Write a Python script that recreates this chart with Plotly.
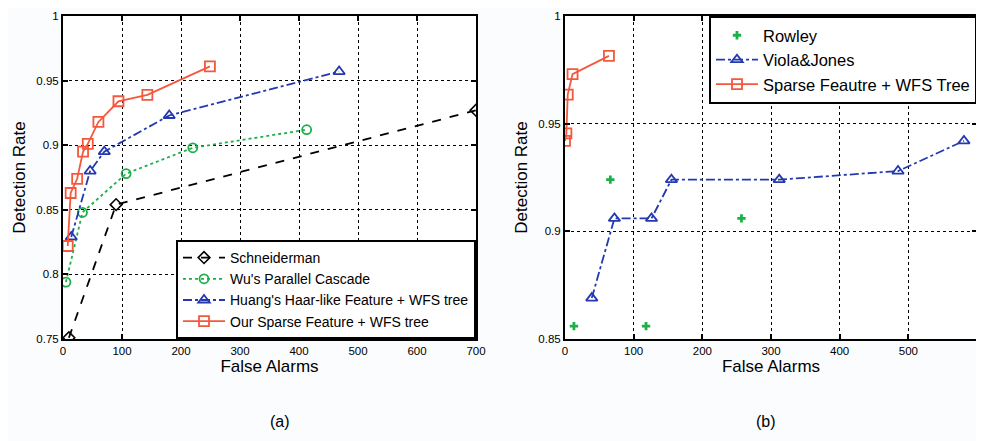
import plotly.graph_objects as go

# ---- data: panel (a) ----
schneider_x = [10, 90, 700]
schneider_y = [0.751, 0.854, 0.927]
wu_x = [5, 33, 107, 220, 413]
wu_y = [0.794, 0.848, 0.878, 0.898, 0.912]
huang_x = [14, 46, 70, 180, 468]
huang_y = [0.829, 0.880, 0.895, 0.923, 0.957]
ours_x = [8, 13, 24, 34, 42, 60, 94, 143, 249]
ours_y = [0.822, 0.863, 0.874, 0.895, 0.901, 0.918, 0.934, 0.939, 0.961]

# ---- data: panel (b) ----
rowley_x = [13, 66, 118, 257]
rowley_y = [0.856, 0.924, 0.856, 0.906]
vj_x = [39, 72, 126, 155, 312, 485, 581]
vj_y = [0.869, 0.906, 0.906, 0.924, 0.924, 0.928, 0.942]
sparse_x = [0, 2, 4, 11, 64]
sparse_y = [0.942, 0.9455, 0.9635, 0.973, 0.9815]

names_a = ["Schneiderman", "Wu's Parallel Cascade",
           "Huang's Haar-like Feature + WFS tree", "Our Sparse Feature + WFS tree"]
names_b = ["Rowley", "Viola&Jones", "Sparse Feautre + WFS Tree"]

BLACK = "#000000"
GREEN = "#1db04a"
BLUE = "#2438b0"
RED = "#f4583c"
FONT = "Liberation Sans, Arial, sans-serif"

OFF = 8  # default page body margin
W, H = 984 - OFF, 441 - OFF
def px_x(p): return (p - OFF) / W
def px_y(p): return 1 - (p - OFF) / H

fig = go.Figure()

fig.add_trace(go.Scatter(x=schneider_x, y=schneider_y, name=names_a[0], mode="lines+markers",
                         line=dict(color=BLACK, width=1.8, dash="dash"),
                         marker=dict(symbol="diamond-open", size=9, color=BLACK, line=dict(width=1.6)),
                         xaxis="x", yaxis="y", legend="legend"))
fig.add_trace(go.Scatter(x=wu_x, y=wu_y, name=names_a[1], mode="lines+markers",
                         line=dict(color=GREEN, width=1.8, dash="dot"),
                         marker=dict(symbol="circle-open", size=9, color=GREEN, line=dict(width=1.8)),
                         xaxis="x", yaxis="y", legend="legend"))
fig.add_trace(go.Scatter(x=huang_x, y=huang_y, name=names_a[2], mode="lines+markers",
                         line=dict(color=BLUE, width=1.8, dash="dashdot"),
                         marker=dict(symbol="triangle-up-open", size=10, color=BLUE, line=dict(width=1.8)),
                         xaxis="x", yaxis="y", legend="legend"))
fig.add_trace(go.Scatter(x=ours_x, y=ours_y, name=names_a[3], mode="lines+markers",
                         line=dict(color=RED, width=1.8),
                         marker=dict(symbol="square-open", size=10, color=RED, line=dict(width=1.8)),
                         xaxis="x", yaxis="y", legend="legend"))

fig.add_trace(go.Scatter(x=rowley_x, y=rowley_y, name=names_b[0], mode="markers",
                         marker=dict(symbol="cross", size=7, color=GREEN),
                         xaxis="x2", yaxis="y2", legend="legend2"))
fig.add_trace(go.Scatter(x=vj_x, y=vj_y, name=names_b[1], mode="lines+markers",
                         line=dict(color=BLUE, width=1.8, dash="dashdot"),
                         marker=dict(symbol="triangle-up-open", size=10, color=BLUE, line=dict(width=1.8)),
                         xaxis="x2", yaxis="y2", legend="legend2"))
fig.add_trace(go.Scatter(x=sparse_x, y=sparse_y, name=names_b[2], mode="lines+markers",
                         line=dict(color=RED, width=1.8),
                         marker=dict(symbol="square-open", size=10, color=RED, line=dict(width=1.8)),
                         xaxis="x2", yaxis="y2", legend="legend2"))

ydom = [px_y(339), px_y(16)]
common = dict(showline=True, linecolor=BLACK, linewidth=2, mirror="ticks",
              ticks="inside", ticklen=5, tickcolor=BLACK, tickwidth=1.5,
              showgrid=True, gridcolor=BLACK, gridwidth=1.2, griddash="dot",
              zeroline=False, tickfont=dict(size=11.5, color=BLACK, family=FONT),
              automargin=False)

fig.update_layout(
    width=W, height=H,
    margin=dict(l=0, r=0, t=0, b=0),
    paper_bgcolor="#fbfcfe", plot_bgcolor="#ffffff",
    font=dict(family=FONT, color=BLACK),
    xaxis=dict(domain=[px_x(63), px_x(476)], range=[0, 700], dtick=100, anchor="y",
               title=dict(text="False Alarms", font=dict(size=17), standoff=4), **common),
    yaxis=dict(domain=ydom, range=[0.75, 1], dtick=0.05, anchor="x",
               title=dict(text="Detection Rate", font=dict(size=17), standoff=6), **common),
    xaxis2=dict(domain=[px_x(565), px_x(977)], range=[0, 600], dtick=100, anchor="y2",
                title=dict(text="False Alarms", font=dict(size=17), standoff=4), **common),
    yaxis2=dict(domain=ydom, range=[0.85, 1], dtick=0.05, anchor="x2",
                title=dict(text="Detection Rate", font=dict(size=17), standoff=6), **common),
    legend=dict(x=px_x(476), y=px_y(339), xanchor="right", yanchor="bottom",
                bgcolor="#ffffff", bordercolor=BLACK, borderwidth=2, itemwidth=42,
                font=dict(size=14, color=BLACK), tracegroupgap=0),
    legend2=dict(x=px_x(977), y=px_y(16), xanchor="right", yanchor="top",
                 bgcolor="#ffffff", bordercolor=BLACK, borderwidth=2, itemwidth=42,
                 font=dict(size=16.5, color=BLACK), tracegroupgap=0),
    showlegend=True,
    annotations=[
        dict(text="(a)", x=px_x(268), y=px_y(432), xref="paper", yref="paper",
             showarrow=False, font=dict(size=16, color=BLACK)),
        dict(text="(b)", x=px_x(778), y=px_y(432), xref="paper", yref="paper",
             showarrow=False, font=dict(size=16, color=BLACK)),
    ],
)

fig.write_html("out.html")
